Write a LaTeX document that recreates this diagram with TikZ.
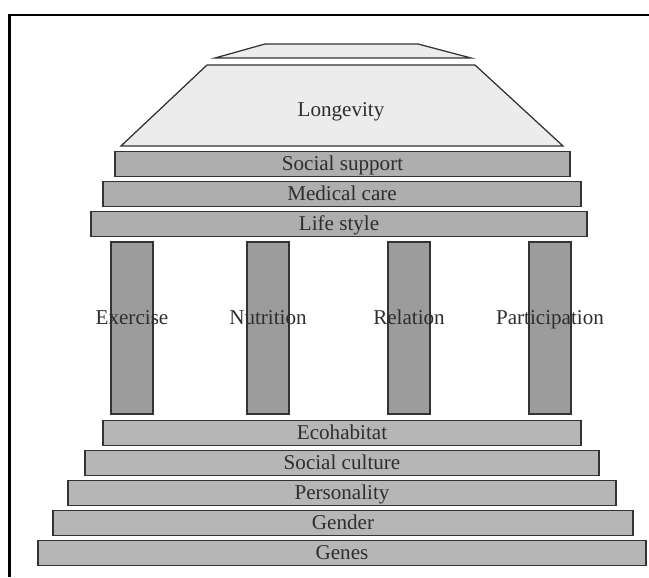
\documentclass[tikz,border=0pt]{standalone}
\usepackage{fontspec}
\setmainfont{Liberation Serif}
\usetikzlibrary{positioning}
\definecolor{roofgray}{HTML}{ECECEC}
\definecolor{beamgray}{HTML}{AEAEAE}
\definecolor{pillargray}{HTML}{9C9C9C}
\definecolor{stepgray}{HTML}{B6B6B6}
\definecolor{edgegray}{HTML}{333333}
\definecolor{textgray}{HTML}{2E2E2E}
\tikzset{
  roof/.style = {fill=roofgray, draw=edgegray, line width=0.9pt, line join=miter},
  beam/.style = {rectangle, fill=beamgray, draw=edgegray, line width=0.9pt, minimum height=0.625cm, inner sep=0pt},
  pillar/.style = {rectangle, fill=pillargray, draw=edgegray, line width=0.9pt, minimum width=1.05cm, minimum height=4.3cm, inner sep=0pt},
  stepbar/.style = {rectangle, fill=stepgray, draw=edgegray, line width=0.9pt, minimum height=0.625cm, inner sep=0pt},
  label/.style = {text=textgray, font=\fontsize{15}{17}\selectfont, text height=11.2pt, text depth=2.2pt}
}

\begin{document}
\begin{tikzpicture}[x=0.025cm, y=-0.025cm, every node/.append style={label}]
\useasboundingbox (0,0) rectangle (649,577);
% FRAME
\draw[line width=1.5pt, black] (649,15) -- (9.5,15) -- (9.5,577);
% ROOF
\draw[roof] (215,58) -- (265,44) -- (418,44) -- (471,58) -- cycle;
\draw[roof] (121,146) -- (207,65) -- (475,65) -- (563,146) -- cycle;
\node (Longevity) at (341,110) {Longevity};
% BEAMS
\node[beam, minimum width=11.375cm] (Social-Support) at (342.5,164) {Social support};
\node[beam, minimum width=11.95cm] (Medical-Care) at (342,194) {Medical care};
\node[beam, minimum width=12.4cm] (Life-Style) at (339,224) {Life style};
% PILLARS
\node[pillar] (Pillar-E) at (132,328) {};
\node[pillar] (Pillar-N) at (268,328) {};
\node[pillar] (Pillar-R) at (409,328) {};
\node[pillar] (Pillar-P) at (550,328) {};
\node (Exercise) at (132,318) {Exercise};
\node (Nutrition) at (268,318) {Nutrition};
\node (Relation) at (409,318) {Relation};
\node (Participation) at (550,318) {Participation};
% STEPS
\node[stepbar, minimum width=11.95cm] (Ecohabitat) at (342,433) {Ecohabitat};
\node[stepbar, minimum width=12.85cm] (Social-Culture) at (342,463) {Social culture};
\node[stepbar, minimum width=13.7cm] (Personality) at (342,493) {Personality};
\node[stepbar, minimum width=14.5cm] (Gender) at (343,523) {Gender};
\node[stepbar, minimum width=15.2cm] (Genes) at (342,553) {Genes};
\end{tikzpicture}
\end{document}
